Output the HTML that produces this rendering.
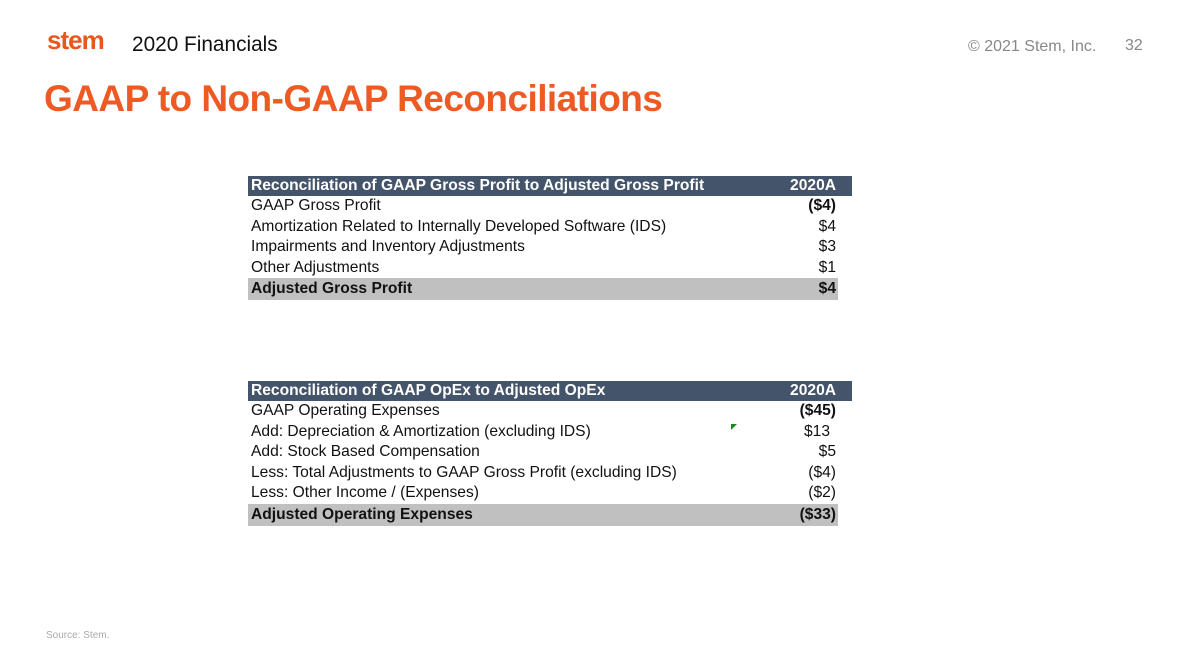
<!DOCTYPE html>
<html><head><style>
body{margin:0;width:1196px;height:672px;background:#fff;position:relative;overflow:hidden;font-family:"Liberation Sans",Arial,sans-serif;}
.abs{position:absolute;white-space:nowrap;}
.tbl{position:absolute;left:248px;width:604px;font-size:15.6px;color:#111;}
.r{position:relative;height:20.6px;line-height:20.6px;padding-left:3px;width:587px;}
.r span{position:absolute;right:2px;top:0;}
.h{background:#44546a;color:#fff;font-weight:bold;width:601px;height:20px;line-height:20px;}
.h span{right:16px;}
.t{background:#c0c0c0;font-weight:bold;height:22px;line-height:22px;}
</style></head><body>
<div class="abs" style="left:47px;top:25px;font-size:26px;font-weight:bold;color:#e8571e;letter-spacing:-1px;">stem</div>
<div class="abs" style="left:132px;top:33px;font-size:20.8px;color:#111;">2020 Financials</div>
<div class="abs" style="left:968px;top:38px;font-size:16px;color:#888;">© 2021 Stem, Inc.</div>
<div class="abs" style="left:1125px;top:37px;font-size:16px;color:#888;">32</div>
<div class="abs" style="left:44px;top:78px;font-size:37px;font-weight:bold;color:#ee5a24;letter-spacing:-0.55px;">GAAP to Non-GAAP Reconciliations</div>

<div class="tbl" style="top:176px;">
<div class="r h">Reconciliation of GAAP Gross Profit to Adjusted Gross Profit<span>2020A</span></div>
<div class="r">GAAP Gross Profit<span style="font-weight:bold">($4)</span></div>
<div class="r">Amortization Related to Internally Developed Software (IDS)<span>$4</span></div>
<div class="r">Impairments and Inventory Adjustments<span>$3</span></div>
<div class="r">Other Adjustments<span>$1</span></div>
<div class="r t">Adjusted Gross Profit<span>$4</span></div>
</div>

<div class="tbl" style="top:381px;">
<div class="r h">Reconciliation of GAAP OpEx to Adjusted OpEx<span>2020A</span></div>
<div class="r">GAAP Operating Expenses<span style="font-weight:bold">($45)</span></div>
<div class="r">Add: Depreciation &amp; Amortization (excluding IDS)<span style="right:8px">$13</span></div>
<div class="r">Add: Stock Based Compensation<span>$5</span></div>
<div class="r">Less: Total Adjustments to GAAP Gross Profit (excluding IDS)<span>($4)</span></div>
<div class="r">Less: Other Income / (Expenses)<span>($2)</span></div>
<div class="r t">Adjusted Operating Expenses<span>($33)</span></div>
</div>
<div class="abs" style="left:731px;top:424px;width:0;height:0;border-top:6px solid #1a8a1a;border-right:6px solid transparent;"></div>
<div class="abs" style="left:46px;top:630px;font-size:10px;color:#aaa;">Source: Stem.</div>
</body></html>
